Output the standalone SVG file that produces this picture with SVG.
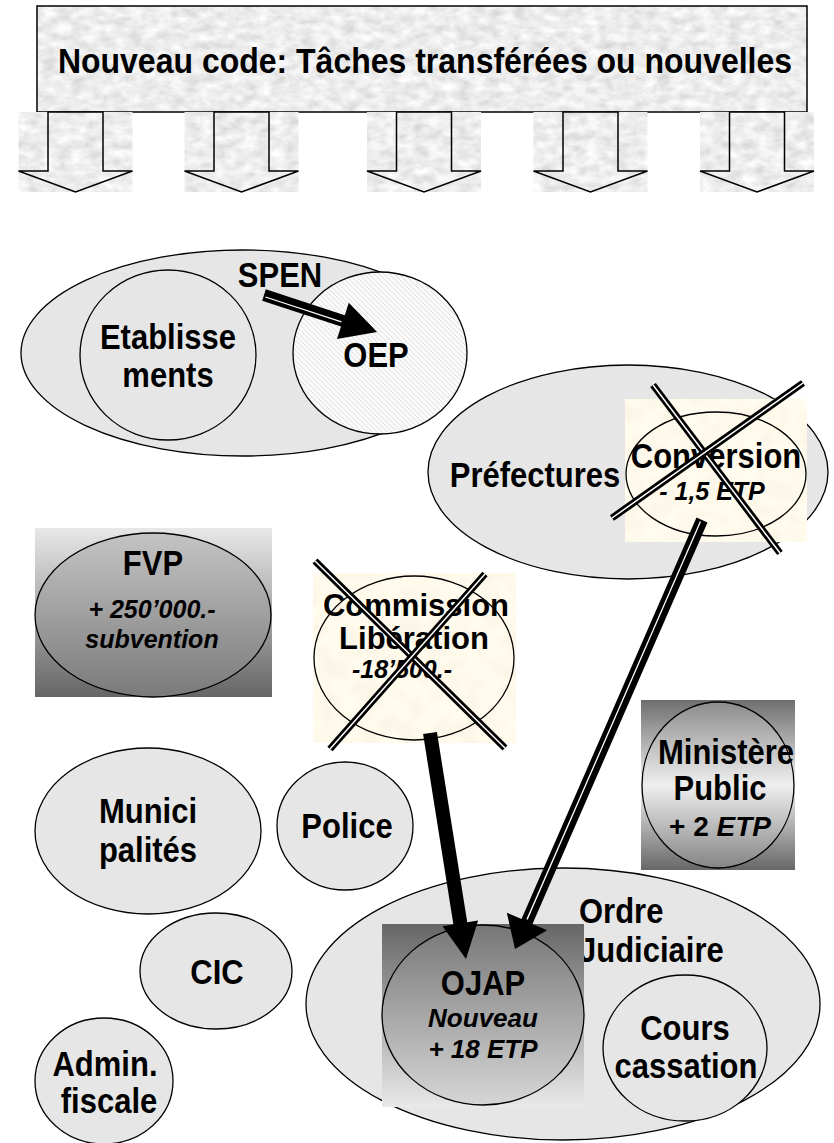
<svg xmlns="http://www.w3.org/2000/svg" width="834" height="1143" viewBox="0 0 834 1143">
<style>
.t{font-family:"Liberation Sans",Arial,sans-serif;font-weight:bold;font-size:31px;text-anchor:middle;fill:#000}
.it{font-style:italic;font-size:25px}
.node{fill:#e6e6e6;stroke:#000;stroke-width:1.3}
.ol{fill:none;stroke:#000;stroke-width:1.3}
.xb{stroke:#000;stroke-width:7;fill:none}
.xw{stroke:#fff;stroke-width:1.5;fill:none}
.arr{fill:#000}
</style>
<defs>
<filter id="marble" x="0" y="0" width="100%" height="100%">
<feTurbulence type="fractalNoise" baseFrequency="0.07 0.12" numOctaves="3" seed="4" result="n"/>
<feColorMatrix in="n" type="matrix" values="0.45 0 0 0 0.62  0.45 0 0 0 0.62  0.45 0 0 0 0.62  0 0 0 0 1" result="g"/>
<feComposite in="g" in2="SourceGraphic" operator="in"/>
</filter>
<filter id="beige" x="0" y="0" width="100%" height="100%">
<feTurbulence type="fractalNoise" baseFrequency="0.05" numOctaves="2" seed="7" result="n"/>
<feColorMatrix in="n" type="matrix" values="0.12 0 0 0 0.93  0.12 0 0 0 0.89  0.14 0 0 0 0.76  0 0 0 0 1" result="g"/>
<feComposite in="g" in2="SourceGraphic" operator="in"/>
</filter>
<pattern id="hatch" width="5" height="5" patternUnits="userSpaceOnUse">
<rect width="5" height="5" fill="#fafafa"/>
<path d="M-1,-1 L6,6 M-1,4 L1,6 M4,-1 L6,1" stroke="#d4d4d4" stroke-width="0.7"/>
</pattern>
<linearGradient id="gFvp" x1="0" y1="0" x2="0" y2="1"><stop offset="0" stop-color="#e8e8e8"/><stop offset="1" stop-color="#666"/></linearGradient>
<linearGradient id="gFvpE" x1="0" y1="0" x2="0" y2="1"><stop offset="0" stop-color="#c4c4c4"/><stop offset="1" stop-color="#7a7a7a"/></linearGradient>
<linearGradient id="gMin" x1="0" y1="0" x2="0" y2="1"><stop offset="0" stop-color="#6e6e6e"/><stop offset="0.5" stop-color="#f2f2f2"/><stop offset="1" stop-color="#676767"/></linearGradient>
<linearGradient id="gMinE" x1="0" y1="0" x2="0" y2="1"><stop offset="0" stop-color="#8c8c8c"/><stop offset="0.5" stop-color="#eeeeee"/><stop offset="1" stop-color="#858585"/></linearGradient>
<linearGradient id="gOj" x1="0" y1="0" x2="0" y2="1"><stop offset="0" stop-color="#666"/><stop offset="1" stop-color="#e9e9e9"/></linearGradient>
<linearGradient id="gOjE" x1="0" y1="0" x2="0" y2="1"><stop offset="0" stop-color="#777"/><stop offset="1" stop-color="#d6d6d6"/></linearGradient>
</defs>
<rect width="834" height="1143" fill="#fff"/>

<g id="banner">
<rect x="37" y="6" width="770" height="106" fill="#fff" filter="url(#marble)"/>
<rect x="37" y="6" width="770" height="106" fill="none" stroke="#000" stroke-width="1.5"/>
<text class="t" transform="translate(425,73) scale(1,1.1)" style="font-size:32px">Nouveau code: Tâches transférées ou nouvelles</text>
<g stroke="#000" stroke-width="1.5" fill="none">
<rect x="18.5" y="112" width="114" height="80" fill="#fff" stroke="none" filter="url(#marble)"/>
<rect x="184.5" y="112" width="114" height="80" fill="#fff" stroke="none" filter="url(#marble)"/>
<rect x="367" y="112" width="114" height="80" fill="#fff" stroke="none" filter="url(#marble)"/>
<rect x="533.5" y="112" width="114" height="80" fill="#fff" stroke="none" filter="url(#marble)"/>
<rect x="700" y="112" width="114" height="80" fill="#fff" stroke="none" filter="url(#marble)"/>
<path d="M48,112 V171 H18.5 L75.5,192 L132.5,171 H103 V112 Z"/>
<path d="M214,112 V171 H184.5 L241.5,192 L298.5,171 H269 V112 Z"/>
<path d="M396.5,112 V171 H367 L424,192 L481,171 H451.5 V112 Z"/>
<path d="M563,112 V171 H533.5 L590.5,192 L647.5,171 H618 V112 Z"/>
<path d="M729.5,112 V171 H700 L757,192 L814,171 H784.5 V112 Z"/>
</g>
</g>

<g id="spen">
<ellipse class="node" cx="243" cy="353" rx="222" ry="103"/>
</g>
<g id="etablissements">
<ellipse class="node" cx="168" cy="355" rx="88" ry="85"/>
<text class="t" transform="translate(168,349) scale(1,1.12)">Etablisse</text>
<text class="t" transform="translate(168,387) scale(1,1.12)">ments</text>
</g>
<g id="oep">
<ellipse cx="380" cy="353" rx="87" ry="81" fill="url(#hatch)" stroke="#000" stroke-width="1.3"/>
<text class="t" transform="translate(376,367) scale(1,1.12)">OEP</text>
</g>
<text class="t" transform="translate(280,287) scale(1,1.12)">SPEN</text>

<g id="prefectures">
<ellipse class="node" cx="628" cy="472" rx="200" ry="107"/>
<text class="t" transform="translate(535,487) scale(1,1.12)">Préfectures</text>
</g>
<g id="conversion">
<rect x="625" y="399" width="182" height="143" fill="#fff" filter="url(#beige)"/>
<ellipse class="ol" cx="716" cy="474" rx="90" ry="62"/>
<text class="t" transform="translate(716,468) scale(1,1.12)">Conversion</text>
<text class="t it" x="712" y="500">- 1,5 ETP</text>
<line class="xb" x1="653" y1="385" x2="780" y2="553"/>
<line class="xw" x1="653" y1="385" x2="780" y2="553"/>
<line class="xb" x1="803" y1="383" x2="612" y2="518"/>
<line class="xw" x1="803" y1="383" x2="612" y2="518"/>
</g>

<g id="fvp">
<rect x="35" y="528" width="237" height="169" fill="url(#gFvp)"/>
<ellipse cx="153" cy="615" rx="118" ry="82" fill="url(#gFvpE)" stroke="#000" stroke-width="1.3"/>
<text class="t" transform="translate(153,575) scale(1,1.12)">FVP</text>
<text class="t it" x="152" y="618">+ 250’000.-</text>
<text class="t it" x="152" y="648">subvention</text>
</g>

<g id="commission">
<rect x="313" y="573" width="203" height="170" fill="#fff" filter="url(#beige)"/>
<ellipse class="ol" cx="414" cy="658" rx="100" ry="82"/>
<text class="t" x="416" y="616">Commission</text>
<text class="t" x="414" y="649">Libération</text>
<text class="t it" x="402" y="678">-18’500.-</text>
<line class="xb" x1="315" y1="561" x2="505" y2="748"/>
<line class="xw" x1="315" y1="561" x2="505" y2="748"/>
<line class="xb" x1="485" y1="574" x2="330" y2="749"/>
<line class="xw" x1="485" y1="574" x2="330" y2="749"/>
</g>

<g id="ministere">
<rect x="641" y="700" width="154" height="170" fill="url(#gMin)"/>
<ellipse cx="718" cy="785" rx="76" ry="83" fill="url(#gMinE)" stroke="#000" stroke-width="1.3"/>
<text class="t" transform="translate(726,764) scale(1,1.12)">Ministère</text>
<text class="t" transform="translate(720,800) scale(1,1.12)">Public</text>
<text class="t" x="720" y="836" style="font-size:28px">+ 2 <tspan font-style="italic">ETP</tspan></text>
</g>

<g id="municipalites">
<ellipse class="node" cx="148" cy="831" rx="113" ry="83"/>
<text class="t" transform="translate(148,823) scale(1,1.12)">Munici</text>
<text class="t" transform="translate(148,862) scale(1,1.12)">palités</text>
</g>
<g id="police">
<ellipse class="node" cx="345" cy="826" rx="68" ry="64"/>
<text class="t" transform="translate(347,838) scale(1,1.12)">Police</text>
</g>
<g id="cic">
<ellipse class="node" cx="216" cy="971" rx="76" ry="58"/>
<text class="t" transform="translate(217,984) scale(1,1.12)">CIC</text>
</g>
<g id="admin">
<ellipse class="node" cx="104" cy="1081" rx="69" ry="63"/>
<text class="t" transform="translate(105,1076) scale(1,1.12)">Admin.</text>
<text class="t" transform="translate(109,1113) scale(1,1.12)">fiscale</text>
</g>

<g id="ordre">
<ellipse class="node" cx="563" cy="1004" rx="257" ry="136"/>
<text class="t" transform="translate(579,923) scale(1,1.12)" style="text-anchor:start">Ordre</text>
<text class="t" transform="translate(579,962) scale(1,1.12)" style="text-anchor:start">Judiciaire</text>
</g>
<g id="ojap">
<rect x="382" y="924" width="202" height="183" fill="url(#gOj)"/>
<ellipse cx="483" cy="1015" rx="101" ry="90" fill="url(#gOjE)" stroke="#000" stroke-width="1.3"/>
<text class="t" transform="translate(483,995) scale(1,1.12)">OJAP</text>
<text class="t it" x="483" y="1027" style="font-size:26px">Nouveau</text>
<text class="t it" x="483" y="1058" style="font-size:26px">+ 18 ETP</text>
</g>
<g id="cours">
<ellipse class="node" cx="685" cy="1048" rx="82" ry="73"/>
<text class="t" transform="translate(685,1040) scale(1,1.12)">Cours</text>
<text class="t" transform="translate(686,1078) scale(1,1.12)">cassation</text>
</g>

<g id="connectors">
<g transform="translate(264,295) rotate(18.13)">
<path class="arr" d="M0,-6 H83 V-19 L119,0 L83,19 V6 H0 Z"/>
<line x1="2" y1="1.5" x2="82" y2="1.5" stroke="#fff" stroke-width="1.2"/>
</g>
<g transform="translate(430,733) rotate(80.95)">
<path class="arr" d="M0,-7 H192.8 V-18 L228.8,0 L192.8,18 V7 H0 Z"/>
</g>
<g transform="translate(702,520) rotate(113.55)">
<path class="arr" d="M0,-6 H438 V-22 L468,0 L438,22 V6 H0 Z"/>
<line x1="2" y1="0.8" x2="436" y2="0.8" stroke="#fff" stroke-width="1.3"/>
</g>
</g>
</svg>
